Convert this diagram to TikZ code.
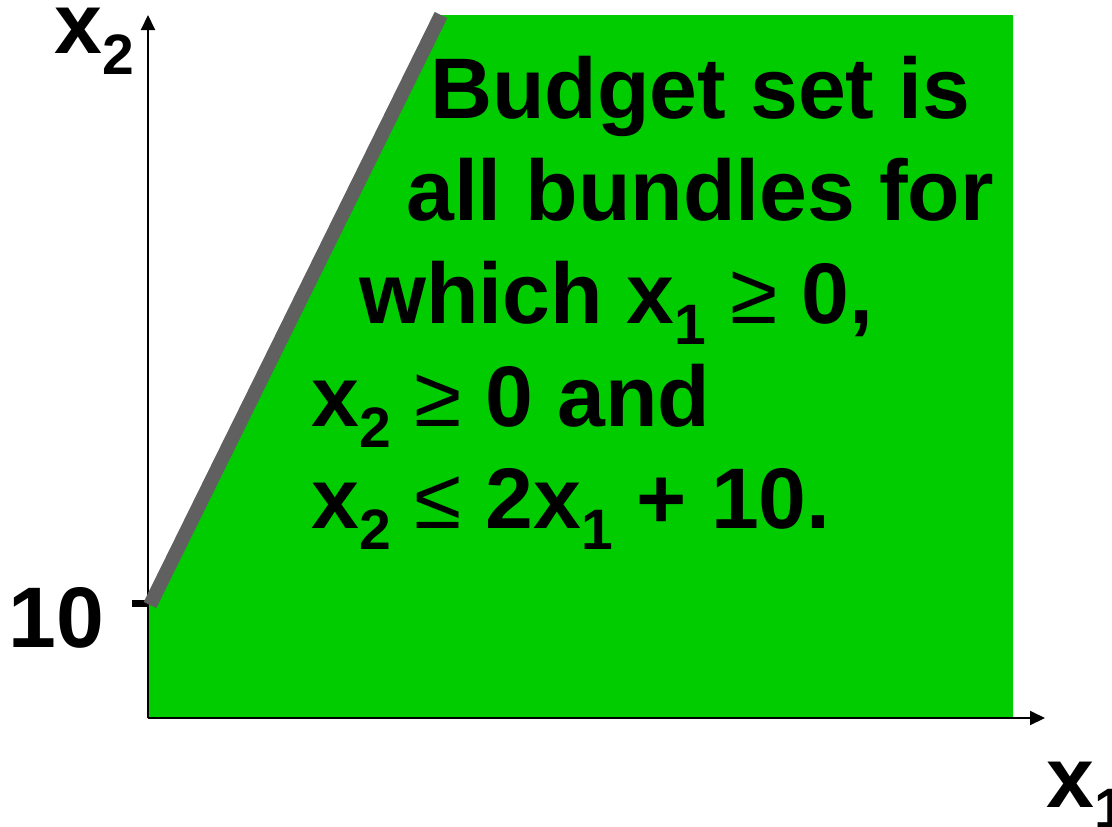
\documentclass[tikz,border=0pt]{standalone}
\usepackage{fontspec}
\setmainfont{Liberation Sans}
\newfontfamily\relfont{Liberation Sans}
\usetikzlibrary{arrows.meta}
\definecolor{budget}{RGB}{0,204,0}
\definecolor{boundary}{RGB}{96,96,96}
\newcommand{\lowsub}[1]{\raisebox{-21pt}{\fontsize{57}{57}\selectfont\bfseries #1}}
\newcommand{\rel}[1]{{\relfont\mdseries #1}}

\begin{document}
\begin{tikzpicture}[x=1pt,y=-1pt]
\tikzset{
  big/.style={font=\fontsize{86}{86}\selectfont\bfseries, inner sep=0pt, anchor=base west},
  axis/.style={line width=2pt, -{Triangle[length=15pt,width=14pt]}}
}
\useasboundingbox (0,0) rectangle (1112,827);
\coordinate (O) at (148,718);
\coordinate (ytop) at (148,15);
\coordinate (xend) at (1045,718);
\coordinate (A) at (150,605);
\coordinate (B) at (441,15);
\coordinate (tick) at (132,603);
% budget set
\fill[budget] (O) -- (148,605) -- (B) -- (1013,15) -- (1013,718) -- cycle;
% axes
\draw[axis] (O) -- (ytop);
\draw[axis] (O) -- (xend);
% budget line and tick
\draw[line width=7pt] (tick) -- (148,603);
\draw[boundary, line width=14pt] (A) -- (B);
% labels
\node[big] (xtwo) at (54,53) {x\lowsub{2}};
\node[big] (xone) at (1046,807) {x\lowsub{1}};
\node[big] (ten) at (8,647) {10};
\node[big] (l1) at (430,118) {Budget set is};
\node[big] (l2) at (406,220) {all bundles for};
\node[big] (l3) at (359,323) {which x\lowsub{1} \rel{≥} 0,};
\node[big] (l4) at (311,426) {x\lowsub{2} \rel{≥} 0 and};
\node[big] (l5) at (311,528) {x\lowsub{2} \rel{≤} 2x\lowsub{1} + 10.};
\end{tikzpicture}
\end{document}
